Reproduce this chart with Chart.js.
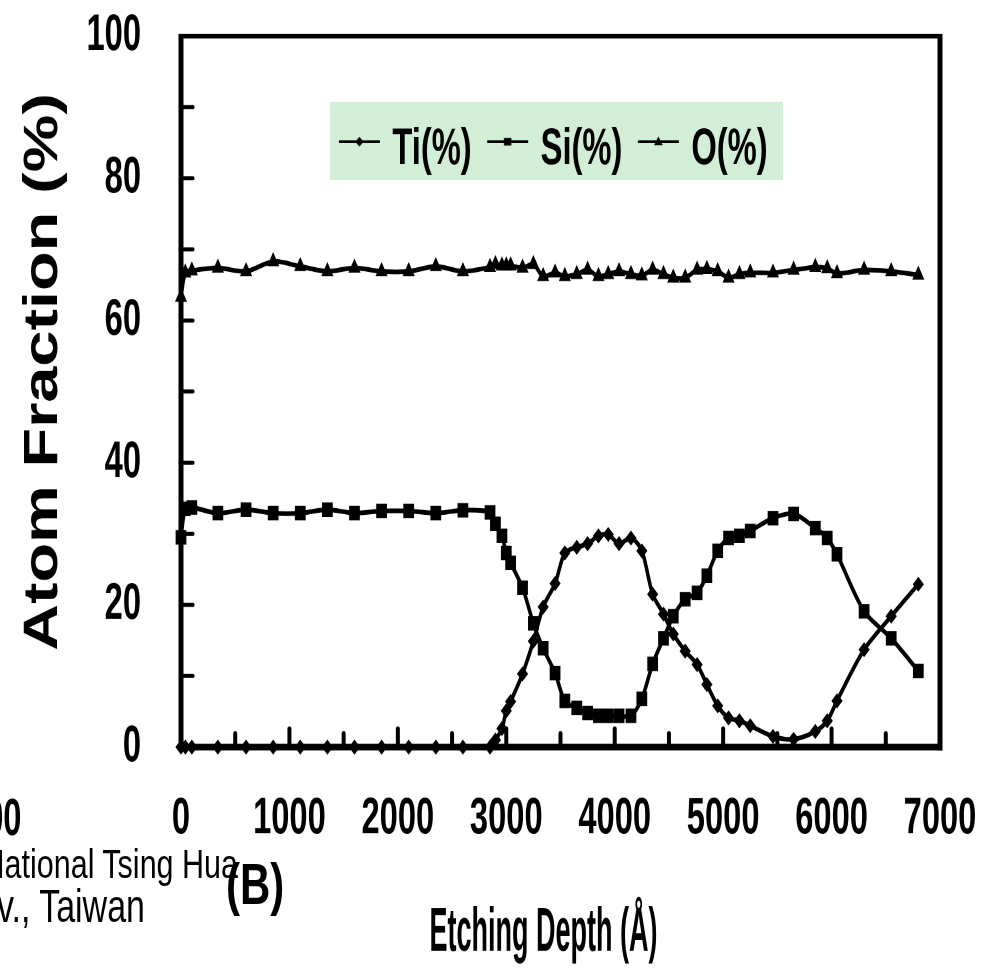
<!DOCTYPE html>
<html><head><meta charset="utf-8">
<script src="https://cdn.jsdelivr.net/npm/chart.js@4.4.1/dist/chart.umd.min.js"></script>
<style>
html,body{margin:0;padding:0;background:#fff;overflow:hidden;}
#wrap{position:absolute;left:0;top:0;width:983px;height:724px;transform:scaleY(1.349448);transform-origin:0 0;}
#c{position:absolute;left:0;top:0;}
.t{position:absolute;white-space:nowrap;color:#000;font-family:'Liberation Sans',Arial,sans-serif;}
.nb{font-weight:bold;font-size:38px;line-height:45.6px;transform:scaleX(0.86);transform-origin:100% 50%;}
.rg{font-size:30.5px;line-height:34px;}
.bb{font-weight:bold;font-size:42px;line-height:48px;}
</style></head><body>
<div id="wrap">
<canvas id="c" width="983" height="724"></canvas>
<div class="t nb" style="right:961px;top:584px;">7000</div>
<div class="t rg" style="right:745px;top:623px;">National Tsing Hua</div>
<div class="t rg" style="right:838px;top:654px;font-size:34px;">Univ., Taiwan</div>
<div class="t bb" style="left:226px;top:632px;">(B)</div>
</div>
<script>
// ---- data ----
const depth = [0,40,100,340,600,850,1100,1350,1600,1850,2100,2350,2600,2850,2900,2960,3000,3040,3150,3250,3340,3450,3540,3650,3750,3850,3940,4040,4150,4250,4350,4450,4540,4650,4760,4850,4950,5050,5150,5250,5460,5650,5850,5960,6050,6300,6550,6800];
const tiPct = [0,0,0,0,0,0,0,0,0,0,0,0,0,0,1.0,2.6,5.1,6.4,10.3,14.9,19.7,23.0,27.3,28.1,28.6,29.7,29.9,28.6,29.4,27.6,21.5,18.7,15.9,13.5,11.6,8.8,5.8,4.1,3.7,3.0,1.5,1.1,2.2,3.7,6.5,13.7,18.4,22.9];
const siPct = [29.5,33.5,33.7,32.9,33.4,32.9,32.9,33.4,32.9,33.2,33.2,32.9,33.3,33.0,31.4,29.7,27.3,25.9,22.4,17.4,13.9,10.4,6.5,5.5,4.8,4.4,4.4,4.4,4.4,6.8,11.7,15.3,18.4,20.8,21.7,24.1,27.6,29.4,29.7,30.4,32.2,32.8,30.8,29.4,27.1,19.1,15.3,10.7];
const oPct = [63.3,66.7,67.0,67.4,66.9,68.3,67.6,66.9,67.4,66.9,66.9,67.6,66.9,67.5,67.9,67.7,67.7,67.7,67.4,67.9,66.2,66.7,66.2,66.5,67.1,66.2,66.5,66.9,66.5,66.3,67.1,66.5,66.0,66.0,67.1,67.2,66.9,66.0,66.5,66.7,66.7,67.1,67.5,67.3,66.6,67.1,66.9,66.4];
const seriesNames = ['Ti(%)','Si(%)','O(%)'];
const xTickLabels = [0,1000,2000,3000,4000,5000,6000,7000];
const yTickLabels = [0,20,40,60,80,100];

const SANS = "'Liberation Sans',Arial,sans-serif";

// draw text horizontally condensed around its anchor point
function condensed(ctx, sx, fn){
  const ft = ctx.fillText, mt = ctx.measureText;
  ctx.fillText = function(t,x,y){ this.save(); this.translate(x,y); this.scale(sx,1); ft.call(this,t,0,0); this.restore(); };
  ctx.measureText = function(t){ const m = mt.call(this,t); return {width:m.width*sx, actualBoundingBoxAscent:m.actualBoundingBoxAscent, actualBoundingBoxDescent:m.actualBoundingBoxDescent}; };
  try { return fn(); } finally { delete ctx.fillText; delete ctx.measureText; }
}

function legendIcon(shape){
  const c=document.createElement('canvas'); c.width=84; c.height=48;
  const g=c.getContext('2d'); g.scale(2,2);
  g.fillStyle='#000'; g.strokeStyle='#000'; g.lineWidth=2;
  const cy=6;
  g.beginPath(); g.moveTo(0.5,cy); g.lineTo(41.5,cy); g.stroke();
  g.beginPath();
  if(shape==='d'){ g.moveTo(21,cy-3.6); g.lineTo(25.2,cy); g.lineTo(21,cy+3.6); g.lineTo(16.8,cy); }
  else if(shape==='s'){ g.rect(17.3,cy-2.8,7.4,5.6); }
  else { g.moveTo(21,cy-3.9); g.lineTo(25.3,cy+2.6); g.lineTo(16.7,cy+2.6); }
  g.closePath(); g.fill();
  const img=new Image(); img.width=42; img.height=24; img.src=c.toDataURL(); return img;
}
const icons=[legendIcon('d'),legendIcon('s'),legendIcon('t')];

const pts = arr => depth.map((d,i)=>({x:d,y:arr[i]}));
function ds(label,arr,style,r){
  return {label,data:pts(arr),borderColor:'#000',backgroundColor:'#000',borderWidth:3.5,
    pointStyle:style,pointRadius:r,pointHoverRadius:r,pointBorderWidth:0,tension:0.3,clip:false};
}

const framePlugin={
  id:'framePlugin',
  beforeLayout(chart){
    const lg=chart.legend;
    if(lg && !lg._patched){
      const f=lg.fit, d=lg.draw;
      lg.fit=function(){ condensed(this.ctx,0.86,()=>f.call(this)); this.height=0; };
      lg.draw=function(){ condensed(this.ctx,0.86,()=>d.call(this)); };
      lg._patched=true;
    }
  },
  beforeDraw(chart){
    const {x,y}=chart.scales;
    if(x && !x._patched){
      const dl=x.drawLabels, dt=x.drawTitle;
      x.drawLabels=function(a){ condensed(this.ctx,0.86,()=>dl.call(this,a)); };
      x.drawTitle=function(){ const c=this.ctx; c.save(); c.translate(-17,0); condensed(c,0.6,()=>dt.call(this)); c.restore(); };
      x._patched=true;
    }
    if(y && !y._patched){
      const dl=y.drawLabels, dt=y.drawTitle;
      y.drawLabels=function(a){ condensed(this.ctx,0.86,()=>dl.call(this,a)); };
      y.drawTitle=function(){ const c=this.ctx; c.save(); c.translate(0,-14.5); dt.call(this); c.restore(); };
      y._patched=true;
    }
    const lg=chart.legend, ctx=chart.ctx;
    lg.left=310; lg.right=803; lg.top=70; lg.bottom=140;
    ctx.save(); ctx.fillStyle='#d2eed6'; ctx.fillRect(330,75.4,453,58); ctx.restore();
  },
  beforeDatasetsDraw(chart){
    const {ctx,chartArea:a,scales:{x,y}}=chart;
    ctx.save(); ctx.strokeStyle='#000'; ctx.lineCap='round';
    ctx.lineWidth=3;
    y.ticks.forEach(t=>{ if(t.value<=0||t.value>=100) return; const py=y.getPixelForValue(t.value);
      ctx.beginPath(); ctx.moveTo(a.left,py); ctx.lineTo(a.left+12,py); ctx.stroke(); });
    ctx.lineWidth=4;
    x.ticks.forEach(t=>{ if(t.value<=0||t.value>=7000) return; const px=x.getPixelForValue(t.value);
      const len=(t.value%1000===0)?13.3:9.8;
      ctx.beginPath(); ctx.moveTo(px,a.bottom); ctx.lineTo(px,a.bottom-len); ctx.stroke(); });
    ctx.lineCap='butt';
    ctx.lineWidth=3.5; ctx.beginPath(); ctx.moveTo(a.left,a.top); ctx.lineTo(a.right,a.top); ctx.stroke();
    ctx.lineWidth=5; ctx.beginPath(); ctx.moveTo(a.left-2.5,a.bottom); ctx.lineTo(a.right+2.5,a.bottom); ctx.stroke();
    ctx.beginPath(); ctx.moveTo(a.left,a.top-1.75); ctx.lineTo(a.left,a.bottom+2.5); ctx.stroke();
    ctx.beginPath(); ctx.moveTo(a.right,a.top-1.75); ctx.lineTo(a.right,a.bottom+2.5); ctx.stroke();
    ctx.restore();
  }
};

function build(){
  new Chart(document.getElementById('c'),{
    type:'line',
    data:{datasets:[ds(seriesNames[0],tiPct,'rectRot',5.6),ds(seriesNames[1],siPct,'rect',7.6),ds(seriesNames[2],oPct,'triangle',7)]},
    options:{
      responsive:false,animation:false,devicePixelRatio:2,
      layout:{padding:{left:0,right:43,top:26.7,bottom:0}},
      plugins:{
        tooltip:{enabled:false},
        legend:{display:true,position:'top',align:'center',
          labels:{usePointStyle:true,pointStyleWidth:28,padding:22,color:'#000',
            font:{family:SANS,size:38,weight:'bold'},
            generateLabels:(chart)=>chart.data.datasets.map((d,i)=>({text:d.label,pointStyle:icons[i],fillStyle:'#000',strokeStyle:'#000',lineWidth:0,hidden:false,datasetIndex:i,fontColor:'#000'}))}
        }
      },
      scales:{
        x:{type:'linear',min:0,max:7000,
          afterFit:s=>{s.height=170.4; s.paddingLeft=0; s.paddingRight=0;},
          grid:{display:false,drawTicks:false},border:{display:false},
          ticks:{stepSize:500,autoSkip:false,maxRotation:0,padding:30.6,color:'#000',
            font:{family:SANS,size:38,weight:'bold'},
            callback:v=>xTickLabels.includes(v)?String(v):''},
          title:{display:true,text:'Etching Depth (Å)',color:'#000',font:{family:SANS,size:45,weight:'bold'},padding:{top:0,bottom:5}}
        },
        y:{type:'linear',min:0,max:100,
          afterFit:s=>{s.width=181; s.paddingTop=0; s.paddingBottom=0;},
          grid:{display:false,drawTicks:false},border:{display:false},
          ticks:{stepSize:10,autoSkip:false,padding:40,color:'#000',
            font:{family:SANS,size:38,weight:'bold'},
            callback:v=>yTickLabels.includes(v)?String(v):''},
          title:{display:true,text:'Atom Fraction (%)',color:'#000',font:{family:SANS,size:48,weight:'bold'},padding:{top:15,bottom:0}}
        }
      }
    },
    plugins:[framePlugin]
  });
}
Promise.all(icons.map(i=>i.decode().catch(()=>{}))).then(build);
</script>
</body></html>
